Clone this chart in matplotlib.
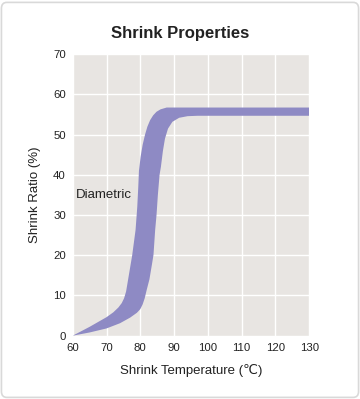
import matplotlib
matplotlib.use("Agg")
from matplotlib import pyplot as plt
from matplotlib.patches import FancyBboxPatch

plt.rcParams['font.family'] = ['Liberation Sans', 'DejaVu Sans']

# upper / left edge of the band (temperature, ratio)
upper_temp = [60, 65, 70, 72, 73.5, 74.5, 75.2, 75.8, 76.5, 77.6, 78.6, 79.1, 79.4, 79.6,
              80.1, 80.7, 81.4, 82.1, 82.9, 83.8, 84.8, 86, 87.8, 130]
upper_ratio = [0, 2.2, 4.6, 5.8, 7.0, 8.1, 9.3, 11, 14.5, 20, 26.3, 32, 37, 41,
               44.5, 47.5, 50, 52, 53.6, 54.8, 55.7, 56.3, 56.75, 56.75]

# lower / right edge of the band
lower_temp = [60, 65, 70, 74, 77, 79, 80, 80.7, 81.3, 81.9, 82.7, 83.5, 83.9, 84.4, 84.8,
              85.2, 85.7, 86.1, 86.7, 87.3, 88.2, 89.5, 91.5, 94, 97, 130]
lower_ratio = [0, 0.8, 1.8, 3.1, 4.5, 5.7, 6.6, 7.8, 9.3, 11.4, 14, 18, 20.1, 26.3, 30,
               35, 40, 42, 46, 49, 51.5, 53.2, 54.2, 54.6, 54.7, 54.7]

x_ticks = [60, 70, 80, 90, 100, 110, 120, 130]
y_ticks = [0, 10, 20, 30, 40, 50, 60, 70]

fig = plt.figure(figsize=(3.6, 3.99), dpi=100)

# rounded frame around the whole card
frame = FancyBboxPatch((0.004, 0.004), 0.992, 0.99, boxstyle="round,pad=0,rounding_size=0.015",
                       transform=fig.transFigure, facecolor="white", edgecolor="#d9d9d9",
                       linewidth=1.2, zorder=-10)
fig.patches.append(frame)

ax = fig.add_axes([0.202, 0.1587, 0.657, 0.7053])
ax.set_facecolor("#e8e5e2")

band_x = upper_temp + lower_temp[::-1]
band_y = upper_ratio + lower_ratio[::-1]
ax.fill(band_x, band_y, color="#8e8ac4", linewidth=0, zorder=3)

ax.set_xlim(60, 130)
ax.set_ylim(0, 70)
ax.set_xticks(x_ticks)
ax.set_yticks(y_ticks)
ax.grid(color="white", linewidth=1.0, zorder=1)
ax.set_axisbelow(True)
for s in ax.spines.values():
    s.set_visible(False)
ax.tick_params(length=0, labelsize=8.2, colors="#222222", pad=5)

ax.text(60.8, 35, "Diametric", fontsize=9.5, color="#222222", va="center", ha="left", zorder=4)

ax.set_xlabel("Shrink Temperature (℃)", fontsize=9.5, color="#222222", labelpad=8)
ax.set_ylabel("Shrink Ratio (%)", fontsize=9.5, color="#222222", labelpad=9)

fig.text(0.5, 0.9055, "Shrink Properties", ha="center", va="baseline", fontsize=12,
         fontweight="bold", color="#222222")

fig.savefig("out.png", dpi=100)
